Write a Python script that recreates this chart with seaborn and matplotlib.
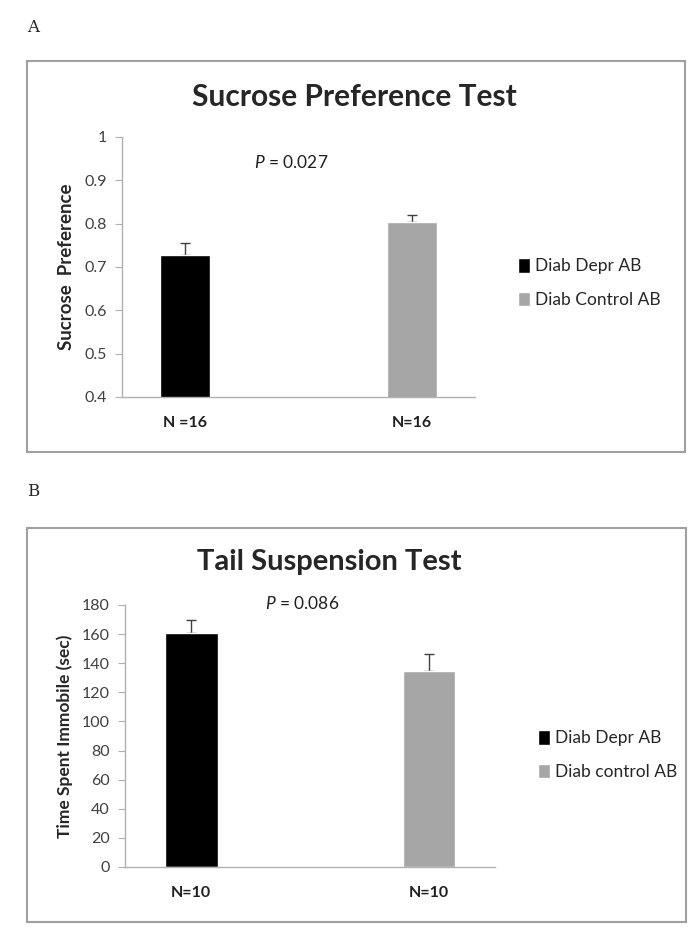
import numpy as np
import pandas as pd
import seaborn as sns
import matplotlib.pyplot as plt
from matplotlib.patches import Rectangle

# panel A: sucrose preference
groups_a = ['Diab Depr AB', 'Diab Control AB']
ticks_a = ['N =16', 'N=16']
means_a = [0.728, 0.803]
errs_a = [0.027, 0.018]
yticks_a = [0.4, 0.5, 0.6, 0.7, 0.8, 0.9, 1.0]
ytlabels_a = ['0.4', '0.5', '0.6', '0.7', '0.8', '0.9', '1']

# panel B: tail suspension
groups_b = ['Diab Depr AB', 'Diab control AB']
ticks_b = ['N=10', 'N=10']
means_b = [160.5, 135.0]
errs_b = [9.0, 11.5]
yticks_b = [0, 20, 40, 60, 80, 100, 120, 140, 160, 180]

colors = ['#000000', '#a6a6a6']

sns.set_style("white")
plt.rcParams['font.family'] = ['Lato', 'DejaVu Sans']
plt.rcParams['mathtext.fontset'] = 'custom'
plt.rcParams['mathtext.rm'] = 'Lato'
plt.rcParams['mathtext.it'] = 'Lato:italic'

W, H = 700, 931
fig = plt.figure(figsize=(W / 100, H / 100), dpi=100)


def fx(px):
    return px / W


def fy(py):
    return 1 - py / H


def panel(rect, groups, ticks, means, errs, yticks, ytlabels, ylim, title, ylabel,
          ptext, ptext_y, title_xy, title_size, leg_xy, ylabel_size, ylabel_pad):
    l, t, r, b = rect
    ax = fig.add_axes([fx(l), fy(b), fx(r - l), (b - t) / H])
    df = pd.DataFrame({'slot': ['0', '1'], 'group': groups, 'value': means})
    sns.barplot(data=df, x='slot', y='value', hue='group', hue_order=groups,
                palette=colors, dodge=True, width=0.57, errorbar=None,
                saturation=1, legend=False, ax=ax, zorder=2)
    centers = []
    for cont, err in zip(ax.containers, errs):
        bar = cont[0]
        xc = bar.get_x() + bar.get_width() / 2
        centers.append(xc)
        ax.errorbar([xc], [bar.get_height()], yerr=[[0], [err]], fmt='none',
                    ecolor='#404040', elinewidth=1, capsize=3.5, capthick=1,
                    zorder=1)
    ax.set_xlim(-0.5, 1.5)
    ax.set_ylim(*ylim)
    ax.set_yticks(yticks)
    ax.set_yticklabels(ytlabels)
    ax.set_xticks(centers)
    ax.set_xticklabels(ticks, fontsize=11.5, fontweight='bold', color='#202020')
    ax.set_xticks([0.5], minor=True)
    ax.tick_params(axis='x', which='major', length=0, pad=14)
    ax.tick_params(axis='x', which='minor', length=4, color='#b0b0b0', direction='in')
    ax.tick_params(axis='y', length=5, color='#b0b0b0', direction='out',
                   labelsize=11.5, labelcolor='#404040', pad=6, left=True)
    ax.set_xlabel('')
    ax.set_ylabel(ylabel, fontsize=ylabel_size, fontweight='bold', labelpad=ylabel_pad)
    for s in ['top', 'right']:
        ax.spines[s].set_visible(False)
    for s in ['left', 'bottom']:
        ax.spines[s].set_color('#b0b0b0')
        ax.spines[s].set_linewidth(1)
    ax.text(0.46, ptext_y, ptext, fontsize=12.5, ha='center', va='center', color='#202020')
    fig.text(fx(title_xy[0]), fy(title_xy[1]), title, fontsize=title_size,
             fontweight='bold', ha='center', va='center')
    ax.legend(handles=list(ax.containers), labels=groups, loc='center left',
              bbox_to_anchor=(fx(leg_xy[0]), fy(leg_xy[1])),
              bbox_transform=fig.transFigure, frameon=False, fontsize=12.5,
              handlelength=0.7, handleheight=0.9, handletextpad=0.3, labelspacing=1.0)
    return ax


panel((122, 137, 475, 397), groups_a, ticks_a, means_a, errs_a, yticks_a, ytlabels_a,
      (0.4, 1.0), 'Sucrose Preference Test', 'Sucrose  Preference',
      r'$\it{P}$ = 0.027', 0.942, (354, 97), 21.5, (502, 283), 13.5, 7)

panel((125, 605, 495, 867), groups_b, ticks_b, means_b, errs_b, yticks_b,
      [str(v) for v in yticks_b], (0, 180), 'Tail Suspension Test',
      'Time Spent Immobile (sec)', r'$\it{P}$ = 0.086', 181, (329, 562), 21,
      (522, 755), 12.5, 6)

# outer frames and panel letters
for (x0, y0, x1, y1) in [(27, 61, 685, 452), (27, 528, 686, 922)]:
    fig.add_artist(Rectangle((fx(x0), fy(y1)), fx(x1 - x0), (y1 - y0) / H,
                             transform=fig.transFigure, fill=False,
                             edgecolor='#a0a0a0', linewidth=1.5))
fig.text(fx(27), fy(27), 'A', fontsize=12, family='DejaVu Serif', va='center')
fig.text(fx(27), fy(492), 'B', fontsize=12, family='DejaVu Serif', va='center')

fig.savefig('out.png', dpi=100)
